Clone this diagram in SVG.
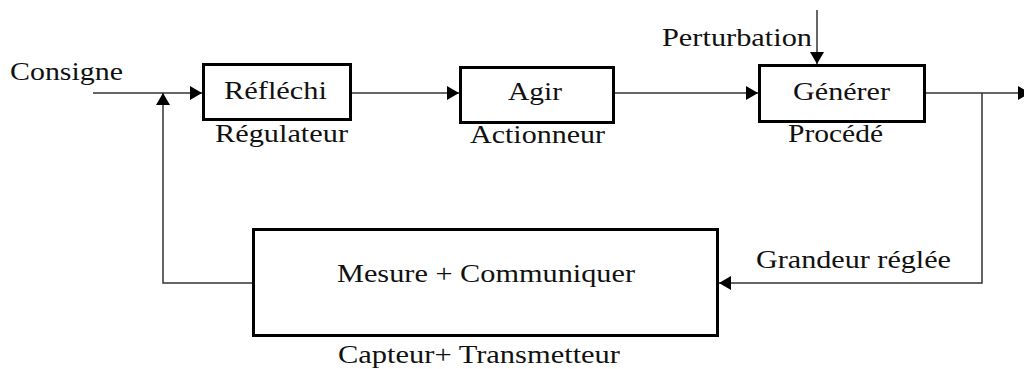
<svg xmlns="http://www.w3.org/2000/svg" width="1024" height="369" viewBox="0 0 1024 369">
<style>
.box{fill:#fff;stroke:#000;stroke-width:3}
.ln{fill:none;stroke:#333;stroke-width:1.5}
.t{font-family:"Liberation Serif","Times New Roman",serif;font-size:25px;fill:#111}
</style>
<defs>
<marker id="ah" markerUnits="userSpaceOnUse" markerWidth="12" markerHeight="14" refX="12" refY="7" orient="auto">
<path d="M0,0 L12,7 L0,14 z" fill="#000"/>
</marker>
</defs>
<rect width="1024" height="369" fill="#fff"/>
<g id="connectors">
<path class="ln" d="M93,93 H202" marker-end="url(#ah)"/>
<path class="ln" d="M252,283 H163 V93" marker-end="url(#ah)"/>
<path class="ln" d="M352,93 H459" marker-end="url(#ah)"/>
<path class="ln" d="M615,93 H758" marker-end="url(#ah)"/>
<path class="ln" d="M817,10 V64" marker-end="url(#ah)"/>
<path class="ln" d="M926,93 H1030" marker-end="url(#ah)"/>
<path class="ln" d="M982,93 V283 H719" marker-end="url(#ah)"/>
</g>
<g id="consigne"><text class="t" x="10" y="80" textLength="113" lengthAdjust="spacingAndGlyphs">Consigne</text></g>
<g id="regulateur">
<rect class="box" x="203.5" y="64.5" width="147" height="55"/>
<text class="t" x="224" y="99" textLength="103" lengthAdjust="spacingAndGlyphs">Réfléchi</text>
<text class="t" x="215" y="142" textLength="133" lengthAdjust="spacingAndGlyphs">Régulateur</text>
</g>
<g id="actionneur">
<rect class="box" x="460.5" y="67.5" width="153" height="55"/>
<text class="t" x="508" y="100" textLength="54" lengthAdjust="spacingAndGlyphs">Agir</text>
<text class="t" x="470" y="143" textLength="135" lengthAdjust="spacingAndGlyphs">Actionneur</text>
</g>
<g id="procede">
<rect class="box" x="759.5" y="65.5" width="165" height="56"/>
<text class="t" x="793" y="100" textLength="97" lengthAdjust="spacingAndGlyphs">Générer</text>
<text class="t" x="788" y="142" textLength="95" lengthAdjust="spacingAndGlyphs">Procédé</text>
</g>
<g id="perturbation"><text class="t" x="662" y="46" textLength="150" lengthAdjust="spacingAndGlyphs">Perturbation</text></g>
<g id="capteur">
<rect class="box" x="253.5" y="229.5" width="464" height="106"/>
<text class="t" x="337" y="282" textLength="298" lengthAdjust="spacingAndGlyphs">Mesure + Communiquer</text>
<text class="t" x="338" y="363" textLength="282" lengthAdjust="spacingAndGlyphs">Capteur+ Transmetteur</text>
</g>
<g id="grandeur"><text class="t" x="756" y="268" textLength="195" lengthAdjust="spacingAndGlyphs">Grandeur réglée</text></g>
</svg>
